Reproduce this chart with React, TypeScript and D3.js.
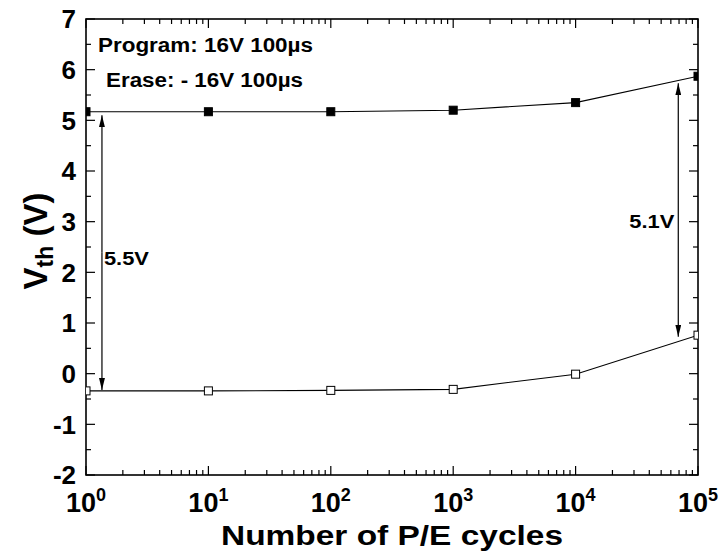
import React, { useEffect, useRef } from "react";
import * as d3 from "d3";

const cycles = [1, 10, 100, 1000, 10000, 100000];
const programVth = [5.17, 5.17, 5.17, 5.2, 5.35, 5.87];
const eraseVth = [-0.34, -0.34, -0.33, -0.31, -0.01, 0.76];
const yTicks = [-2, -1, 0, 1, 2, 3, 4, 5, 6, 7];
const decadeExps = [0, 1, 2, 3, 4, 5];
const notes = ["Program: 16V 100\u00b5s", "Erase: - 16V 100\u00b5s"];
// windows: [x, top, bottom, label]
const windows: [number, number, number, string][] = [
  [1.35, 5.1, -0.32, "5.5V"],
  [69000, 5.73, 0.73, "5.1V"],
];

const W = 723;
const H = 558;
const FONT = "Arial, 'Liberation Sans', Helvetica, sans-serif";

const App = () => {
  const ref = useRef<SVGSVGElement>(null);

  useEffect(() => {
    const m = { left: 86, right: 698, top: 19, bottom: 475 };
    const x = d3.scaleLog().domain([1, 100000]).range([m.left, m.right]);
    const y = d3.scaleLinear().domain([-2, 7]).range([m.bottom, m.top]);

    const svg = d3.select(ref.current);
    svg.selectAll("*").remove();

    const defs = svg.append("defs");
    defs
      .append("clipPath")
      .attr("id", "plotclip")
      .append("rect")
      .attr("x", m.left)
      .attr("y", m.top)
      .attr("width", m.right - m.left)
      .attr("height", m.bottom - m.top);
    defs
      .append("marker")
      .attr("id", "arrow")
      .attr("viewBox", "0 0 10 10")
      .attr("refX", 10)
      .attr("refY", 5)
      .attr("markerWidth", 12)
      .attr("markerHeight", 6)
      .attr("markerUnits", "userSpaceOnUse")
      .attr("orient", "auto")
      .attr("preserveAspectRatio", "none")
      .append("path")
      .attr("d", "M0,0 L10,5 L0,10 Z")
      .attr("fill", "#000");

    // minor ticks
    const minorX: number[] = [];
    for (let e = 0; e < 5; e++) for (let k = 2; k <= 9; k++) minorX.push(k * Math.pow(10, e));
    const minorY = d3.range(-1.5, 7, 1);

    const tickG = svg.append("g").attr("stroke", "#000").attr("stroke-width", 1.2);
    const majL = 9;
    const minL = 5;
    decadeExps.forEach((e) => {
      const px = x(Math.pow(10, e));
      tickG.append("line").attr("x1", px).attr("x2", px).attr("y1", m.bottom).attr("y2", m.bottom - majL);
      tickG.append("line").attr("x1", px).attr("x2", px).attr("y1", m.top).attr("y2", m.top + majL);
    });
    minorX.forEach((v) => {
      const px = x(v);
      tickG.append("line").attr("x1", px).attr("x2", px).attr("y1", m.bottom).attr("y2", m.bottom - minL);
      tickG.append("line").attr("x1", px).attr("x2", px).attr("y1", m.top).attr("y2", m.top + minL);
    });
    yTicks.forEach((v) => {
      const py = y(v);
      tickG.append("line").attr("x1", m.left).attr("x2", m.left + majL).attr("y1", py).attr("y2", py);
      tickG.append("line").attr("x1", m.right).attr("x2", m.right - majL).attr("y1", py).attr("y2", py);
    });
    minorY.forEach((v) => {
      const py = y(v);
      tickG.append("line").attr("x1", m.left).attr("x2", m.left + minL).attr("y1", py).attr("y2", py);
      tickG.append("line").attr("x1", m.right).attr("x2", m.right - minL).attr("y1", py).attr("y2", py);
    });

    // frame
    svg
      .append("rect")
      .attr("x", m.left)
      .attr("y", m.top)
      .attr("width", m.right - m.left)
      .attr("height", m.bottom - m.top)
      .attr("fill", "none")
      .attr("stroke", "#000")
      .attr("stroke-width", 1.6);

    // y tick labels
    svg
      .append("g")
      .selectAll("text")
      .data(yTicks)
      .join("text")
      .attr("x", m.left - 10)
      .attr("y", (d) => y(d))
      .attr("dy", "0.36em")
      .attr("text-anchor", "end")
      .attr("font-family", FONT)
      .attr("font-weight", "bold")
      .attr("font-size", 26)
      .text((d) => String(d));

    // x tick labels 10^n
    decadeExps.forEach((e) => {
      const t = svg
        .append("text")
        .attr("x", x(Math.pow(10, e)))
        .attr("y", 512)
        .attr("text-anchor", "middle")
        .attr("font-family", FONT)
        .attr("font-weight", "bold")
        .attr("font-size", 27);
      t.append("tspan").text("10");
      t.append("tspan").attr("font-size", 18).attr("dy", -11).text(String(e));
    });

    // axis titles
    svg
      .append("text")
      .attr("x", 221)
      .attr("y", 545)
      .attr("textLength", 342)
      .attr("lengthAdjust", "spacingAndGlyphs")
      .attr("font-family", FONT)
      .attr("font-weight", "bold")
      .attr("font-size", 28)
      .text("Number of P/E cycles");

    const yt = svg
      .append("text")
      .attr("transform", `translate(47,241) rotate(-90)`)
      .attr("text-anchor", "middle")
      .attr("font-family", FONT)
      .attr("font-weight", "bold")
      .attr("font-size", 33);
    yt.append("tspan").text("V");
    yt.append("tspan").attr("font-size", 23).attr("dy", 6).text("th");
    yt.append("tspan").attr("dy", -6).text(" (V)");

    // data
    const plot = svg.append("g").attr("clip-path", "url(#plotclip)");
    const line = d3
      .line<number>()
      .x((_, i) => x(cycles[i]))
      .y((d) => y(d));

    [programVth, eraseVth].forEach((series, si) => {
      plot
        .append("path")
        .datum(series)
        .attr("d", line)
        .attr("fill", "none")
        .attr("stroke", "#000")
        .attr("stroke-width", 1.1);
      plot
        .append("g")
        .selectAll("rect")
        .data(series)
        .join("rect")
        .attr("x", (_, i) => x(cycles[i]) - 4)
        .attr("y", (d) => y(d) - 4)
        .attr("width", 8)
        .attr("height", 8)
        .attr("fill", si === 0 ? "#000" : "#fff")
        .attr("stroke", "#000")
        .attr("stroke-width", 1);
    });

    // window arrows
    windows.forEach(([xv, top, bot, label], i) => {
      const px = x(xv);
      const mid = (y(top) + y(bot)) / 2;
      [top, bot].forEach((v) => {
        svg
          .append("line")
          .attr("x1", px)
          .attr("x2", px)
          .attr("y1", mid)
          .attr("y2", y(v))
          .attr("stroke", "#000")
          .attr("stroke-width", 1.2)
          .attr("marker-end", "url(#arrow)");
      });
      svg
        .append("text")
        .attr("x", i === 0 ? px + 2 : px - 49)
        .attr("y", i === 0 ? y(2.28) : y(3.0))
        .attr("dy", "0.36em")
        .attr("textLength", 45)
        .attr("lengthAdjust", "spacingAndGlyphs")
        .attr("font-family", FONT)
        .attr("font-weight", "bold")
        .attr("font-size", 18)
        .text(label);
    });

    // condition notes
    notes.forEach((n, i) => {
      svg
        .append("text")
        .attr("x", i === 0 ? 98 : 106)
        .attr("y", i === 0 ? 52 : 87)
        .attr("textLength", i === 0 ? 215 : 197)
        .attr("lengthAdjust", "spacingAndGlyphs")
        .attr("font-family", FONT)
        .attr("font-weight", "bold")
        .attr("font-size", 20)
        .text(n);
    });
  }, []);

  return (
    <svg
      ref={ref}
      width={W}
      height={H}
      style={{ position: "absolute", left: 0, top: 0, background: "#fff" }}
    />
  );
};

export default App;
